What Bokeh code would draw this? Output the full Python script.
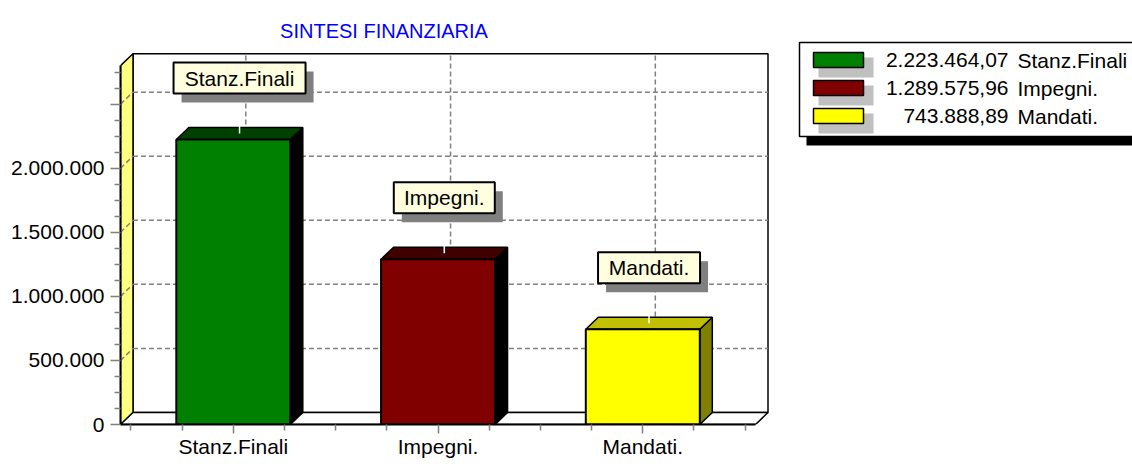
from bokeh.plotting import figure
from bokeh.models import LinearAxis, FixedTicker, Range1d
from bokeh.core.properties import value
from bokeh.embed import file_html
from bokeh.resources import INLINE

# ---------------- data ----------------
TITLE = "SINTESI FINANZIARIA"
categories = ["Stanz.Finali", "Impegni.", "Mandati."]
amounts = [2223464.07, 1289575.96, 743888.89]
cat_pos = [1, 2, 3]
y_ticks = [0, 500000, 1000000, 1500000, 2000000, 2500000]
y_tick_labels = ["0", "500.000", "1.000.000", "1.500.000", "2.000.000", ""]
y_minor_ticks = [125000, 250000, 375000, 625000, 750000, 875000, 1125000, 1250000,
                 1375000, 1625000, 1750000, 1875000, 2125000, 2250000, 2375000,
                 2625000, 2750000]
x_minor_ticks = [0.5, 0.75, 1.25, 1.5, 1.75, 2.25, 2.5, 2.75, 3.25, 3.5]

front_colors = ["#008000", "#800000", "#FFFF00"]
top_colors = ["#004000", "#400000", "#C0C000"]
side_colors = ["#000000", "#000000", "#808000"]


def it_fmt(v):
    s = f"{v:,.2f}"
    return s.replace(",", "X").replace(".", ",").replace("X", ".")


legend_numbers = [it_fmt(v) for v in amounts]

# ---------------- layout constants (pixels) ----------------
FIG_W, FIG_H = 1132, 464
FRAME_L, FRAME_R, FRAME_T, FRAME_B = 120, 1132, 0, 424
UX = 204.75          # px per category unit
X1_PX = 232.8        # page x of category 1 (front plane)
UY = 128.15e-6       # px per unit of value

x_start = 1 - (X1_PX - FRAME_L) / UX
x_end = x_start + (FRAME_R - FRAME_L) / UX
y_end = (FRAME_B - FRAME_T) / UY


def px2x(px):
    return x_start + (px - FRAME_L) / UX


def px2y(py):
    return (FRAME_B - py) / UY


DX = 12.5 / UX
DY = 12 / UY
X_LEFT = x_start
X_RIGHT = px2x(755)
Y_TOP = 2.8e6
BAR_W = 114 / UX
FONT = "Liberation Sans"

p = figure(width=FIG_W, height=FIG_H,
           x_range=Range1d(x_start, x_end), y_range=Range1d(0, y_end),
           x_axis_type=None, y_axis_type=None,
           toolbar_location=None, output_backend="svg",
           min_border_left=FRAME_L, min_border_right=FIG_W - FRAME_R,
           min_border_top=FRAME_T, min_border_bottom=FIG_H - FRAME_B)
p.outline_line_color = None
p.background_fill_color = "white"
p.border_fill_color = "white"

# ---------------- 3D box: back wall, side wall ----------------
p.quad(left=X_LEFT + DX, right=X_RIGHT + DX, bottom=DY, top=Y_TOP + DY,
       fill_color="white", line_color="black", line_width=1.5)
p.patch([X_LEFT, X_LEFT + DX, X_LEFT + DX, X_LEFT], [0, DY, Y_TOP + DY, Y_TOP],
        fill_color="#FFFF80", line_color="black", line_width=1.5)

# gridlines
grid_vals = y_ticks[1:]
n = len(grid_vals)
GRID = dict(line_color="#808080", line_width=1.5, line_dash="5 3")
p.segment(x0=[X_LEFT + DX] * n, x1=[X_RIGHT + DX] * n,
          y0=[v + DY for v in grid_vals], y1=[v + DY for v in grid_vals], **GRID)
p.segment(x0=[X_LEFT] * n, x1=[X_LEFT + DX] * n,
          y0=grid_vals, y1=[v + DY for v in grid_vals], **GRID)
p.segment(x0=[c + DX for c in cat_pos], x1=[c + DX for c in cat_pos],
          y0=[DY] * 3, y1=[Y_TOP + DY] * 3, **GRID)

# floor
p.patch([X_LEFT, X_RIGHT, X_RIGHT + DX, X_LEFT + DX], [0, 0, DY, DY],
        fill_color="white", line_color="black", line_width=1.5)

# ---------------- bars ----------------
hw = BAR_W / 2
p.patches(xs=[[c + hw, c + hw + DX, c + hw + DX, c + hw] for c in cat_pos],
          ys=[[0, DY, v + DY, v] for v in amounts],
          fill_color=side_colors, line_color="black", line_width=1.5)
p.patches(xs=[[c - hw, c + hw, c + hw + DX, c - hw + DX] for c in cat_pos],
          ys=[[v, v, v + DY, v + DY] for v in amounts],
          fill_color=top_colors, line_color="black", line_width=1.5)
p.quad(left=[c - hw for c in cat_pos], right=[c + hw for c in cat_pos],
       bottom=[0] * 3, top=amounts,
       fill_color=front_colors, line_color="black", line_width=2)

# leader lines (white)
p.segment(x0=[c + DX / 2 for c in cat_pos], x1=[c + DX / 2 for c in cat_pos],
          y0=[v + DY / 2 for v in amounts], y1=[v + DY + 34 / UY for v in amounts],
          line_color="white", line_width=1.5)

# callout boxes
BOX_W = [132, 101, 102]
BOX_H = 31
bx = [c + DX / 2 for c in cat_pos]
by = [v + DY + 49.5 / UY for v in amounts]
p.rect(x=[x + 8 / UX for x in bx], y=[y - 9 / UY for y in by], width=BOX_W, height=BOX_H,
       width_units="screen", height_units="screen", fill_color="#808080", line_color=None)
p.rect(x=bx, y=by, width=BOX_W, height=BOX_H, width_units="screen", height_units="screen",
       fill_color="#FFFFE0", line_color="black", line_width=2)
p.text(x=bx, y=by, text=categories, text_align="center", text_baseline="middle",
       text_font=value(FONT), text_font_size="21px", text_color="black")

# ---------------- title ----------------
p.text(x=[px2x(383.5)], y=[px2y(30.7)], text=[TITLE], text_align="center",
       text_baseline="alphabetic", text_font=value(FONT), text_font_size="20px",
       text_color="#0000FF")

# ---------------- legend ----------------
p.quad(left=px2x(806), right=px2x(1160), top=px2y(51), bottom=px2y(145),
       fill_color="black", line_color=None)
p.quad(left=px2x(799), right=px2x(1150), top=px2y(42), bottom=px2y(136),
       fill_color="white", line_color="black", line_width=1.5)
row_tops = [52 + 28 * i for i in range(len(categories))]
p.quad(left=[px2x(818)] * 3, right=[px2x(873)] * 3,
       top=[px2y(t + 5) for t in row_tops], bottom=[px2y(t + 25) for t in row_tops],
       fill_color="#C0C0C0", line_color=None)
p.quad(left=[px2x(813)] * 3, right=[px2x(863)] * 3,
       top=[px2y(t) for t in row_tops], bottom=[px2y(t + 15) for t in row_tops],
       fill_color=front_colors, line_color="black", line_width=1.5)
p.text(x=[px2x(1008)] * 3, y=[px2y(t + 7.5) for t in row_tops], text=legend_numbers,
       text_align="right", text_baseline="middle", text_font=value(FONT),
       text_font_size="21px", text_color="black")
p.text(x=[px2x(1017)] * 3, y=[px2y(t + 7.5) for t in row_tops], text=categories,
       text_align="left", text_baseline="middle", text_font=value(FONT),
       text_font_size="21px", text_color="black")

# ---------------- axes ----------------
yax = LinearAxis(ticker=FixedTicker(ticks=y_ticks, minor_ticks=y_minor_ticks),
                 bounds=(0, Y_TOP),
                 axis_line_color="black", axis_line_width=2,
                 major_tick_line_color="#808080", major_tick_line_width=1.5,
                 major_tick_out=10, major_tick_in=0,
                 minor_tick_line_color="#808080", minor_tick_line_width=1.5,
                 minor_tick_out=6, minor_tick_in=0,
                 major_label_standoff=6,
                 major_label_text_font=FONT, major_label_text_font_size="21px",
                 major_label_text_color="black",
                 major_label_overrides={t: l for t, l in zip(y_ticks, y_tick_labels)})
p.add_layout(yax, "left")

xax = LinearAxis(ticker=FixedTicker(ticks=cat_pos, minor_ticks=x_minor_ticks),
                 bounds=(X_LEFT, X_RIGHT),
                 axis_line_color="black", axis_line_width=2,
                 major_tick_line_color="#808080", major_tick_line_width=1.5,
                 major_tick_out=9, major_tick_in=0,
                 minor_tick_line_color="#808080", minor_tick_line_width=1.5,
                 minor_tick_out=6, minor_tick_in=0,
                 major_label_standoff=1,
                 major_label_text_font=FONT, major_label_text_font_size="21px",
                 major_label_text_color="black",
                 major_label_overrides={c: l for c, l in zip(cat_pos, categories)})
p.add_layout(xax, "below")

open("out.html", "w").write(file_html(p, INLINE))
